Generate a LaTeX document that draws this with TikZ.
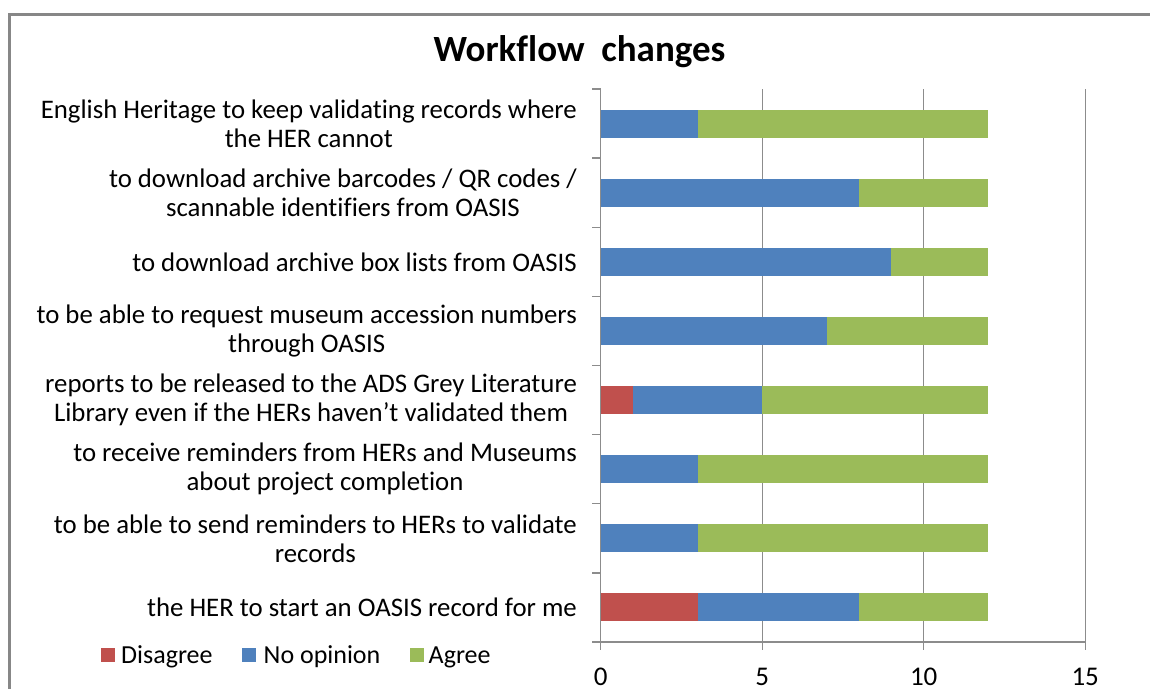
\documentclass[tikz,border=0pt]{standalone}
\usepackage{fontspec}
\setmainfont{Carlito}[Ligatures={NoCommon}]
\definecolor{cred}{HTML}{C0504D}
\definecolor{cblue}{HTML}{4F81BD}
\definecolor{cgreen}{HTML}{9BBB59}
\definecolor{cgrid}{HTML}{8C8C8C}
\definecolor{cframe}{HTML}{878787}
\tikzset{
  gridline/.style={draw=cgrid, line width=1.2pt},
  axisline/.style={draw=cgrid, line width=1.4pt},
  framebox/.style={draw=cframe, line width=2.6pt},
  catlabel/.style={anchor=east, align=center, font=\fontsize{26.8}{29}\selectfont, inner sep=0pt},
  ticklabel/.style={anchor=base, font=\fontsize{27}{28}\selectfont, inner sep=0pt},
  legtext/.style={anchor=base west, font=\fontsize{26}{28}\selectfont, inner sep=0pt},
  titlestyle/.style={font=\fontsize{37}{40}\selectfont\bfseries, inner sep=0pt}
}
\begin{document}
\begin{tikzpicture}[x=1pt,y=-1pt]
\useasboundingbox (0,0) rectangle (1150,688);
\draw[framebox] (9.5,690) -- (9.5,14.5) -- (1152,14.5);
\node[titlestyle] (title) at (579.5,52) {Workflow\ \ changes};
% category labels
\def\cy#1{89+69.125*(#1+0.5)}
\node[catlabel] (l1) at (577,{\cy{0}}) {English Heritage to keep validating records where\\the HER cannot};
\node[catlabel] (l2) at (577,{\cy{1}}) {to download archive barcodes / QR codes /\\scannable identifiers from OASIS};
\node[catlabel] (l3) at (577,{\cy{2}}) {to download archive box lists from OASIS};
\node[catlabel] (l4) at (577,{\cy{3}}) {to be able to request museum accession numbers\\through OASIS};
\node[catlabel] (l5) at (577,{\cy{4}}) {reports to be released to the ADS Grey Literature\\Library even if the HERs haven’t validated them};
\node[catlabel] (l6) at (577,{\cy{5}}) {to receive reminders from HERs and Museums\\about project completion};
\node[catlabel] (l7) at (577,{\cy{6}}) {to be able to send reminders to HERs to validate\\records};
\node[catlabel] (l8) at (577,{\cy{7}}) {the HER to start an OASIS record for me};
\begin{scope}[shift={(600.7,0)}, x=32.3pt, y=-1pt]
  % gridlines
  \foreach \v in {5,10,15} \draw[gridline] (\v,89) -- (\v,650);
  % bars: red, blue, green
  \foreach \i/\r/\b/\g in {0/0/3/9, 1/0/8/4, 2/0/9/3, 3/0/7/5, 4/1/4/7, 5/0/3/9, 6/0/3/9, 7/3/5/4} {
    \pgfmathsetmacro{\yc}{89+69.125*(\i+0.5)}
    \pgfmathsetmacro{\xb}{\r}
    \pgfmathsetmacro{\xg}{\r+\b}
    \pgfmathsetmacro{\xe}{\r+\b+\g}
    \ifnum\r>0 \fill[cred] (0,\yc-14) rectangle (\xb,\yc+14); \fi
    \fill[cblue] (\xb,\yc-14) rectangle (\xg,\yc+14);
    \fill[cgreen] (\xg,\yc-14) rectangle (\xe,\yc+14);
  }
  % axes
  \draw[axisline] (0,89) -- (0,650);
  \draw[axisline] (0,642) -- (15,642);
  \foreach \k in {0,...,8} \draw[axisline] (0,{89+69.125*\k}) -- ++(-8.5pt,0pt);
  \foreach \v in {5,10,15} \draw[axisline] (\v,642) -- (\v,650);
  \foreach \v in {0,5,10,15} \node[ticklabel] (t\v) at (\v,685) {\v};
\end{scope}
% legend
\fill[cred] (101,648) rectangle (114.5,662);
\node[legtext] (leg1) at (121,663) {Disagree};
\fill[cblue] (241.5,648) rectangle (255.5,662);
\node[legtext] (leg2) at (263.5,663) {No opinion};
\fill[cgreen] (409.5,648) rectangle (423.5,662);
\node[legtext] (leg3) at (428.5,663) {Agree};
\end{tikzpicture}
\end{document}
